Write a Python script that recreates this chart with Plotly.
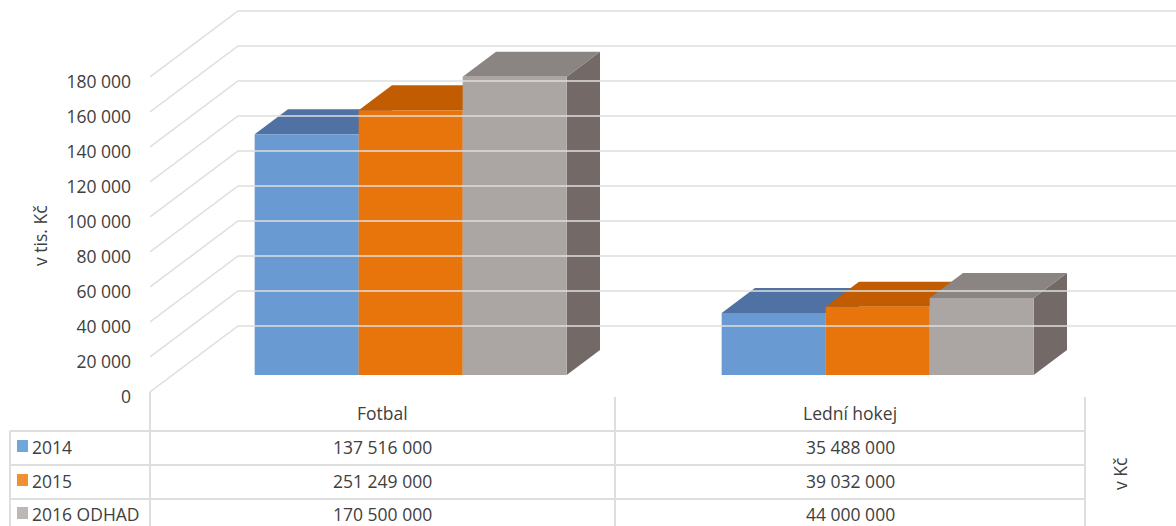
import plotly.graph_objects as go

# ---------------- data ----------------
categories = ["Fotbal", "Lední hokej"]
series_names = ["2014", "2015", "2016 ODHAD"]
values_2014 = [137516, 35488]      # v tis. Kč (bar heights)
values_2015 = [151249, 39032]
values_2016 = [170500, 44000]
table_2014 = ["137 516 000", "35 488 000"]   # v Kč (data table text)
table_2015 = ["251 249 000", "39 032 000"]
table_2016 = ["170 500 000", "44 000 000"]
y_tickvals = [0, 20000, 40000, 60000, 80000, 100000, 120000, 140000, 160000, 180000]
y_ticktext = ["0", "20 000", "40 000", "60 000", "80 000", "100 000",
              "120 000", "140 000", "160 000", "180 000"]

all_values = [values_2014, values_2015, values_2016]
all_table = [table_2014, table_2015, table_2016]

# ---------------- style ----------------
front_colors = ["#6A9AD2", "#E8750B", "#ABA6A3"]
top_colors = ["#4F71A3", "#C25C00", "#8A8482"]
side_colors = ["#3F5C88", "#A24C00", "#736A68"]
legend_colors = ["#6FA6DC", "#F0902F", "#BDB8B5"]
grid_color = "#DEDEDE"
text_color = "#404040"
FONT = "Open Sans"
FS = 17.5

W, H = 1176, 526
PLOT_LEFT = 150                # px where the x-axis domain begins
PX_PER_CAT = 467.0             # px per category on the front plane
CAT0_PX = 388.0                # px of category 0 centre on the front plane
PX_PER_VAL = 1.75 / 1000.0     # px per unit (tis. Kč)
ZERO_PX = 392.0                # px (from top) of value 0 on the front plane
DEPTH_DX, DEPTH_DY = 88.0, 66.0   # px shift of full depth (right / up)
D_FRONT, D_BACK = 17.0 / 66.0, 42.0 / 66.0
BAR_W = 104.0 / PX_PER_CAT

xmin = -(CAT0_PX - PLOT_LEFT) / PX_PER_CAT
xmax = xmin + (W - PLOT_LEFT) / PX_PER_CAT
ymax = ZERO_PX / PX_PER_VAL
ymin = ymax - H / PX_PER_VAL


def proj(c, v, d):
    return c + d * DEPTH_DX / PX_PER_CAT, v + d * DEPTH_DY / PX_PER_VAL


def poly(points):
    xs, ys = zip(*[proj(*p) for p in points])
    return list(xs) + [xs[0]], list(ys) + [ys[0]]


fig = go.Figure()

# back-wall grid lines with slanted left wall part
shapes = []
for v in y_tickvals:
    x0, y0 = proj(xmin, v, 0)
    x1, y1 = proj(xmin, v, 1)
    shapes.append(dict(type="path", xref="x", yref="y",
                       path=f"M {x0},{y0} L {x1},{y1} L {xmax},{y1}",
                       line=dict(color=grid_color, width=1.5)))

# bars (front / top / side faces), painted left to right
for ci, cat in enumerate(categories):
    for si, name in enumerate(series_names):
        v = all_values[si][ci]
        l = ci - 1.5 * BAR_W + si * BAR_W
        r = l + BAR_W
        faces = [
            ([(r, 0, D_FRONT), (r, 0, D_BACK), (r, v, D_BACK), (r, v, D_FRONT)], side_colors[si]),
            ([(l, v, D_FRONT), (r, v, D_FRONT), (r, v, D_BACK), (l, v, D_BACK)], top_colors[si]),
            ([(l, 0, D_FRONT), (r, 0, D_FRONT), (r, v, D_FRONT), (l, v, D_FRONT)], front_colors[si]),
        ]
        for pts, col in faces:
            xs, ys = poly(pts)
            fig.add_trace(go.Scatter(x=xs, y=ys, mode="lines", fill="toself",
                                     fillcolor=col, line=dict(width=0, color=col),
                                     hoverinfo="skip", showlegend=False, name=name))

# ---------------- data table ----------------
def px_x(x):
    return x / W


def px_y(y):
    return 1 - y / H


col_edges = [10, 150, 615, 1085]
row_lines = [431, 465, 499]
row_centers = [447, 481, 514]
header_center = 413

tline = dict(color=grid_color, width=2)
shapes.append(dict(type="line", xref="paper", yref="paper",
                   x0=px_x(150), x1=px_x(150), y0=px_y(392), y1=px_y(526), line=tline))
for xe in col_edges[2:]:
    shapes.append(dict(type="line", xref="paper", yref="paper",
                       x0=px_x(xe), x1=px_x(xe), y0=px_y(397), y1=px_y(526), line=tline))
shapes.append(dict(type="line", xref="paper", yref="paper",
                   x0=px_x(10), x1=px_x(10), y0=px_y(431), y1=px_y(526), line=tline))
for yl in row_lines:
    shapes.append(dict(type="line", xref="paper", yref="paper",
                       x0=px_x(10), x1=px_x(1085), y0=px_y(yl), y1=px_y(yl), line=tline))

tfont = dict(size=FS, color=text_color, family=FONT)
annotations = []
for ci, cat in enumerate(categories):
    cx = (col_edges[ci + 1] + col_edges[ci + 2]) / 2
    annotations.append(dict(text=cat, x=px_x(cx), y=px_y(header_center), xref="paper", yref="paper",
                            xanchor="center", yanchor="middle", showarrow=False, font=tfont))
    for si in range(len(series_names)):
        annotations.append(dict(text=all_table[si][ci], x=px_x(cx), y=px_y(row_centers[si]),
                                xref="paper", yref="paper", xanchor="center", yanchor="middle",
                                showarrow=False, font=tfont))
for si, name in enumerate(series_names):
    shapes.append(dict(type="rect", xref="paper", yref="paper",
                       x0=px_x(17), x1=px_x(28), y0=px_y(row_centers[si] + 5),
                       y1=px_y(row_centers[si] - 7), fillcolor=legend_colors[si], line=dict(width=0)))
    annotations.append(dict(text=name, x=px_x(30), y=px_y(row_centers[si]), xref="paper", yref="paper",
                            xanchor="left", yanchor="middle", showarrow=False, font=tfont))

annotations.append(dict(text="v tis. Kč", x=px_x(40), y=px_y(236), xref="paper", yref="paper",
                        xanchor="center", yanchor="middle", textangle=-90, showarrow=False,
                        font=dict(size=FS, color=text_color, family=FONT)))
annotations.append(dict(text="v Kč", x=px_x(1120), y=px_y(474), xref="paper", yref="paper",
                        xanchor="center", yanchor="middle", textangle=-90, showarrow=False,
                        font=dict(size=FS, color=text_color, family=FONT)))

fig.update_layout(
    width=W, height=H,
    margin=dict(l=0, r=0, t=0, b=0),
    paper_bgcolor="white", plot_bgcolor="white",
    showlegend=False,
    shapes=shapes,
    annotations=annotations,
    xaxis=dict(domain=[PLOT_LEFT / W, 1], range=[xmin, xmax], showgrid=False, zeroline=False,
               showticklabels=False, showline=False, fixedrange=True),
    yaxis=dict(domain=[0, 1], range=[ymin, ymax], showgrid=False, zeroline=False, showline=False,
               tickmode="array", tickvals=y_tickvals, ticktext=y_ticktext,
               ticklabelstandoff=18, ticklabelshift=5,
               tickfont=dict(size=FS, color=text_color, family=FONT), fixedrange=True),
)

fig.write_html("out.html", config={"displayModeBar": False},
               post_script="document.body.style.margin='0';document.body.style.overflow='hidden';")
